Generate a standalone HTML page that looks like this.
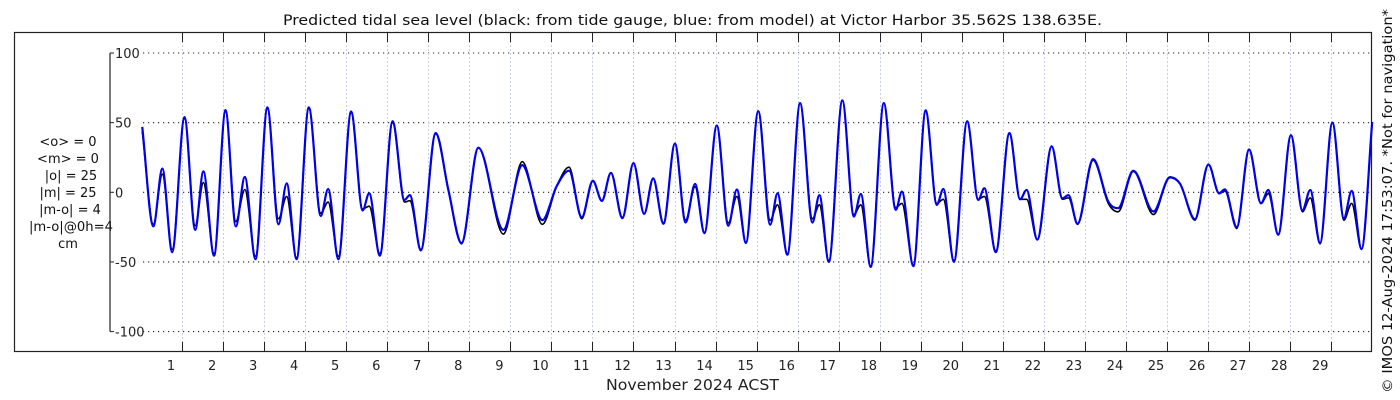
<!DOCTYPE html>
<html><head><meta charset="utf-8"><style>
html,body{margin:0;padding:0;background:#fff;}
svg{display:block;font-family:"DejaVu Sans","Liberation Sans",sans-serif;}
</style></head><body>
<svg id="chart" width="1400" height="400" viewBox="0 0 1400 400">
<rect x="0" y="0" width="1400" height="400" fill="#fff"/>
<text x="283" y="25" font-size="14" textLength="819" lengthAdjust="spacingAndGlyphs" fill="#111">Predicted tidal sea level (black: from tide gauge, blue: from model) at Victor Harbor 35.562S 138.635E.</text>
<rect x="14.5" y="32.5" width="1357" height="319" fill="none" stroke="#222" stroke-width="1.2"/>
<g id="grid"></g>
<g id="axes"></g>
<g id="series"></g>
<g font-size="13" fill="#111" text-anchor="middle">
<text x="68" y="146">&lt;o&gt; = 0</text>
<text x="68" y="163">&lt;m&gt; = 0</text>
<text x="71" y="180">|o| = 25</text>
<text x="68" y="197">|m| = 25</text>
<text x="70" y="214">|m-o| = 4</text>
<text x="71" y="231" textLength="84" lengthAdjust="spacingAndGlyphs">|m-o|@0h=4</text>
<text x="68" y="248">cm</text>
</g>
<text x="606" y="390" font-size="15" textLength="173" lengthAdjust="spacingAndGlyphs" fill="#222">November 2024 ACST</text>
<text transform="translate(1392,201) rotate(-90)" font-size="13" text-anchor="middle" textLength="384" lengthAdjust="spacingAndGlyphs" fill="#111">© IMOS 12-Aug-2024 17:53:07. *Not for navigation*</text>
</svg>
<script>
const times=[0.03,0.30,0.52,0.76,1.06,1.32,1.52,1.78,2.06,2.31,2.53,2.79,3.08,3.35,3.55,3.79,4.09,4.38,4.56,4.81,5.12,5.40,5.56,5.82,6.13,6.42,6.55,6.82,7.18,7.49,7.81,8.22,8.83,9.29,9.78,10.13,10.43,10.74,11.01,11.23,11.45,11.73,12.00,12.26,12.48,12.73,13.01,13.27,13.50,13.73,14.03,14.31,14.52,14.74,15.04,15.33,15.51,15.75,16.06,16.36,16.53,16.76,17.09,17.37,17.54,17.78,18.10,18.39,18.54,18.82,19.12,19.39,19.55,19.81,20.13,20.40,20.55,20.83,21.16,21.42,21.58,21.84,22.19,22.45,22.60,22.82,23.20,23.57,23.81,24.18,24.67,25.07,25.32,25.68,26.01,26.27,26.41,26.70,27.00,27.29,27.47,27.71,28.02,28.30,28.49,28.73,29.03,29.31,29.50,29.74,30.00];
const model=[47,-24.5,17,-43,54,-27,15,-45.5,59,-24.5,11,-48,61,-23,6.4,-48,61,-17,2.4,-48,58,-13,-0.7,-45.5,51,-5.5,-2,-41.7,42.6,1.7,-36.4,32,-27,19.5,-20,4.5,15.5,-18,8.3,-6.2,14,-18.6,21,-15.5,10,-22.6,35,-21.7,6,-29.3,48,-24,2,-36.4,58.3,-23.3,-0.7,-44.8,64,-21.7,-2,-50,66,-17.4,-1.2,-53.6,64,-12.6,0.5,-53,58.8,-9,2.4,-50,51,-5.5,2.9,-43,42.6,-5,1.7,-34,33,-4.3,-2,-22.6,23.8,-6.7,-11.4,15.5,-13.8,10.7,6,-19.3,20,-0.7,2.1,-25,30.7,-7.9,1.7,-30.5,41,-13,1.7,-36.4,50,-18.6,1,-40.7,50.5];
const observed=[44,-23,13,-41,53,-24,7,-44,58,-21,2,-46,60,-19,-3,-47,60,-15,-7,-46,57,-12,-10,-44,50,-7,-6,-41,42,1,-37,32,-30,22,-23,4.5,18,-19,8,-6,14,-18,21,-15.5,10,-22,35,-20,4,-29,48,-22,-3,-36,58,-20,-9,-44,64,-19,-9,-49,66,-16,-9,-53,64,-11,-8,-52,58,-8,-5,-49,51,-5,-3,-42,42,-5,-5,-34,33,-5,-4,-23,23,-8,-14,15,-16,11,6,-20,20,-1,1,-26,30.5,-8,-1,-30,41,-14,-4,-37,50,-20,-8,-41,50.5];
const yTicks=[100,50,0,-50,-100];
const dayLabels=[1,2,3,4,5,6,7,8,9,10,11,12,13,14,15,16,17,18,19,20,21,22,23,24,25,26,27,28,29];

const NS="http://www.w3.org/2000/svg";
const X0=141, DX=41.04, Y0=192.3, DY=1.393;
const xs=t=>X0+t*DX;
const ys=v=>Y0-v*DY;
function mk(tag,attrs,parent){const e=document.createElementNS(NS,tag);for(const k in attrs)e.setAttribute(k,attrs[k]);parent.appendChild(e);return e;}
const grid=document.getElementById('grid'),axes=document.getElementById('axes'),series=document.getElementById('series');

yTicks.forEach(v=>{
 const l=mk('line',{x1:143,x2:1371,y1:ys(v),y2:ys(v),stroke:'#222','stroke-width':1.1,'stroke-dasharray':'1.2,3.8'},grid);
 
 
 const tk=mk('line',{x1:110,x2:114,y1:ys(v),y2:ys(v),stroke:'#222','stroke-width':1},axes);
 
 
 const tx=mk('text',{x:115,y:ys(v)+5,'font-size':13,fill:'#222'},axes);
 tx.textContent=String(v);
 
 
});
const ya=mk('line',{x1:110,x2:110,y1:ys(100),y2:ys(-100),stroke:'#222','stroke-width':1.2},axes);



dayLabels.forEach(d=>{
 const x=Math.round(xs(d))+0.5;
 const g=mk('line',{x1:x,x2:x,y1:33,y2:351,stroke:'#c8cde8','stroke-width':1,'stroke-dasharray':'2,2'},grid);
 
 
 const t1=mk('line',{x1:x,x2:x,y1:33,y2:42,stroke:'#222','stroke-width':1},axes);
 
 
 const t2=mk('line',{x1:x,x2:x,y1:342,y2:351,stroke:'#222','stroke-width':1},axes);
 
 
 const tx=mk('text',{x:xs(d)-11,y:370,'font-size':13,'text-anchor':'middle',fill:'#222'},axes);
 tx.textContent=String(d);
 
 
});

function monoPath(tt,vv){
 const n=tt.length,px=tt.map(xs),py=vv.map(ys),d=[],m=[];
 for(let i=0;i<n-1;i++)d.push((py[i+1]-py[i])/(px[i+1]-px[i]));
 for(let i=0;i<n;i++){
  if(i===0)m.push(d[0]);else if(i===n-1)m.push(d[n-2]);
  else m.push(d[i-1]*d[i]<=0?0:(d[i-1]+d[i])/2);
 }
 for(let i=0;i<n-1;i++){if(d[i]===0){m[i]=m[i+1]=0;continue;}const a=m[i]/d[i],b=m[i+1]/d[i],s=a*a+b*b;if(s>9){const k=3/Math.sqrt(s);m[i]=k*a*d[i];m[i+1]=k*b*d[i];}}
 let p='M'+px[0].toFixed(2)+','+py[0].toFixed(2);
 for(let i=0;i<n-1;i++){const h=(px[i+1]-px[i])/3;p+=' C'+(px[i]+h).toFixed(2)+','+(py[i]+m[i]*h).toFixed(2)+' '+(px[i+1]-h).toFixed(2)+','+(py[i+1]-m[i+1]*h).toFixed(2)+' '+px[i+1].toFixed(2)+','+py[i+1].toFixed(2);}
 return p;
}
const ob=mk('path',{d:monoPath(times,observed),fill:'none',stroke:'#000','stroke-width':1.6},series);


const md=mk('path',{d:monoPath(times,model),fill:'none',stroke:'#0000ee','stroke-width':2.2},series);


</script>
</body></html>
